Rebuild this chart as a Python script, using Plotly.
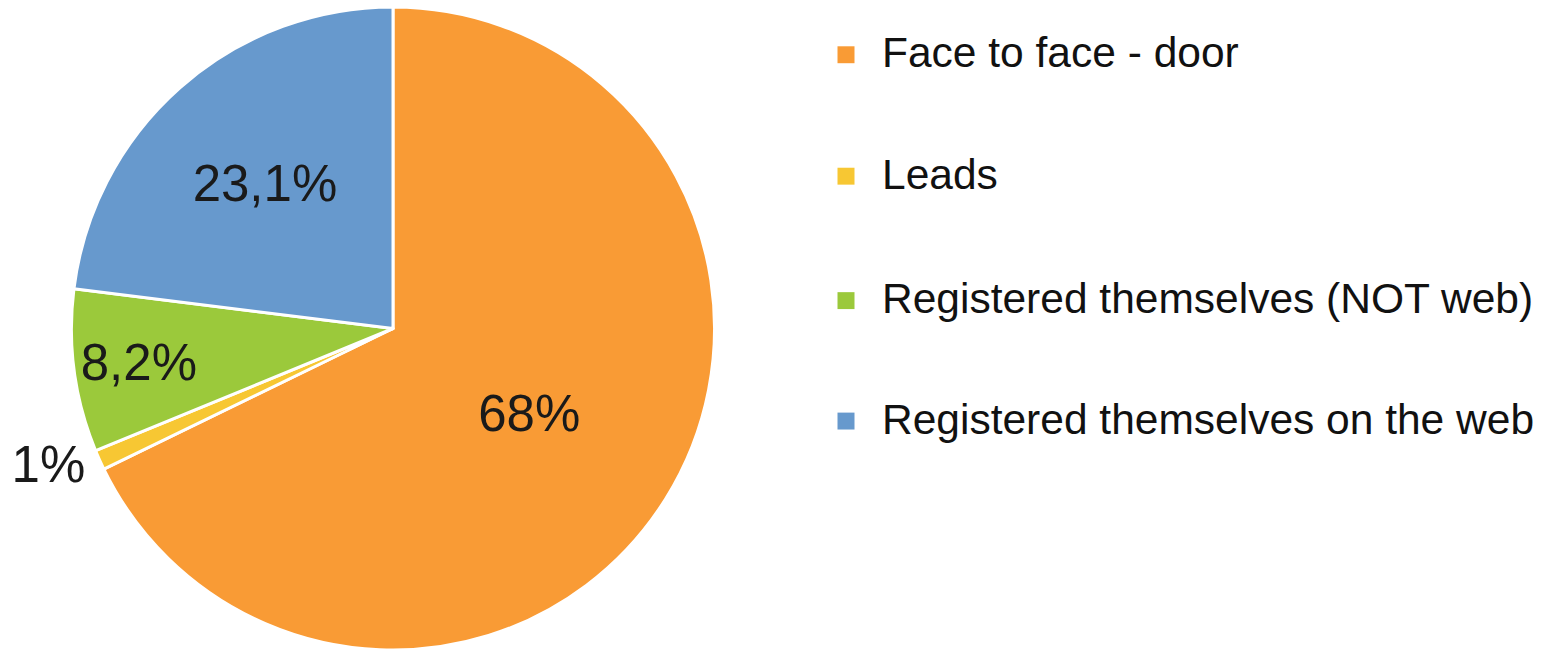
import plotly.graph_objects as go

categories = ["Face to face - door", "Leads", "Registered themselves (NOT web)",
              "Registered themselves on the web"]
values = [68.0, 1.0, 8.2, 23.1]
value_labels = ["68%", "1%", "8,2%", "23,1%"]
colors = ["#F99B35", "#F7C733", "#9BC93B", "#6799CD"]
label_positions = ["inside", "outside", "inside", "inside"]

W, H = 1552, 655
cx, cy, R = 393, 330, 323

fig = go.Figure()
fig.add_trace(go.Pie(
    labels=categories,
    values=values,
    text=value_labels,
    textinfo="text",
    textposition=label_positions,
    insidetextorientation="horizontal",
    sort=False,
    direction="clockwise",
    rotation=0,
    marker=dict(colors=colors, line=dict(color="white", width=3)),
    textfont=dict(family="Liberation Sans, Arial, sans-serif", size=51, color="#1a1a1a"),
    showlegend=False,
    domain=dict(x=[(cx - R) / W, (cx + R) / W], y=[(H - cy - R) / H, (H - cy + R) / H]),
))

# manual legend (large spacing as in the reference)
legend_y = [55, 177, 302, 423]
for name, col, ly in zip(categories, colors, legend_y):
    fig.add_shape(type="rect", xref="paper", yref="paper",
                  x0=(846 - 8.5) / W, x1=(846 + 8.5) / W,
                  y0=1 - (ly + 8.5) / H, y1=1 - (ly - 8.5) / H,
                  fillcolor=col, line=dict(width=0))
    fig.add_annotation(x=880 / W, y=1 - (ly - 2) / H, xref="paper", yref="paper",
                       text=name, showarrow=False, xanchor="left", yanchor="middle",
                       font=dict(family="Liberation Sans, Arial, sans-serif", size=42.5, color="#111111"))

fig.update_layout(
    width=W, height=H,
    margin=dict(l=0, r=0, t=0, b=0),
    paper_bgcolor="white", plot_bgcolor="white",
)
fig.write_html("out.html", config={"displayModeBar": False},
               post_script="document.body.style.margin='0';")
